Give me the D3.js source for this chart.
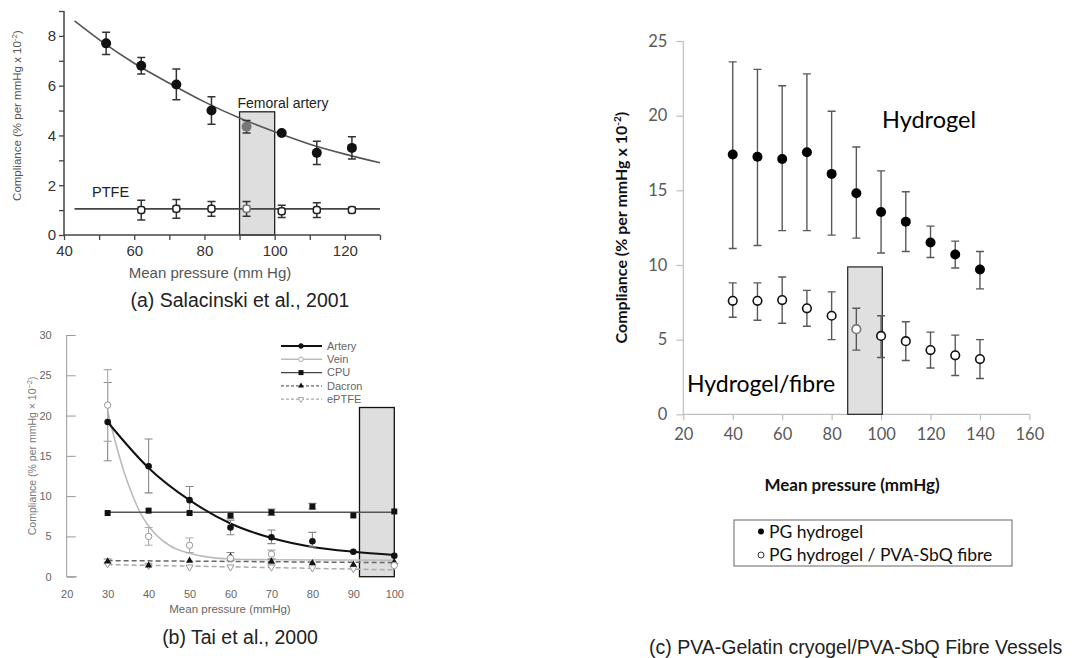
<!DOCTYPE html>
<html>
<head>
<meta charset="utf-8">
<script src="https://cdn.jsdelivr.net/npm/d3@7"></script>
<style>
  body { margin: 0; background: #fff; }
  svg { display: block; }
</style>
</head>
<body>
<div id="chart-area"></div>
<script>
// Panel (a) - Salacinski et al., 2001
const pressureA = [52, 62, 72, 82, 92, 102, 112, 122];
const arteryA = [7.7, 6.8, 6.05, 5.0, 4.35, 4.1, 3.3, 3.5];
const arteryErrA = [0.45, 0.33, 0.62, 0.55, 0.25, 0, 0.47, 0.45];
const ptfePressureA = [62, 72, 82, 92, 102, 112, 122];
const ptfeA = [1.0, 1.05, 1.05, 1.05, 0.95, 1.0, 1.0];
const ptfeErrA = [0.4, 0.38, 0.3, 0.3, 0.25, 0.3, 0.1];
const arteryFitXA = [43, 50, 60, 70, 80, 90, 100, 110, 120, 130];
const arteryFitYA = [8.6, 7.85, 6.9, 6.1, 5.35, 4.7, 4.15, 3.65, 3.25, 2.9];
const ptfeFitA = [[43, 1.05], [130, 1.05]];

// Panel (b) - Tai et al., 2000
const pressureB = [30, 40, 50, 60, 70, 80, 90, 100];
const arteryB = [19.2, 13.7, 9.5, 6.1, 4.9, 4.4, 3.1, 2.6];
const arteryLoB = [14.4, 10.4, 8.0, 5.2, 4.1, 3.7, 3.1, 2.6];
const arteryHiB = [24.1, 17.1, 11.2, 7.0, 5.8, 5.5, 3.1, 2.6];
const veinB = [21.3, 5.0, 3.9, 2.3, 2.8, 1.9, 1.6, 1.4];
const veinLoB = [16.8, 3.9, 3.0, 2.3, 2.2, 1.9, 1.6, 1.4];
const veinHiB = [25.7, 6.1, 4.8, 2.3, 3.3, 1.9, 1.6, 1.4];
const cpuB = [7.9, 8.2, 7.9, 7.6, 8.0, 8.7, 7.6, 8.1];
const cpuLoB = [7.9, 8.2, 7.9, 7.2, 7.6, 8.4, 7.6, 8.1];
const cpuHiB = [7.9, 8.2, 7.9, 8.0, 8.4, 9.1, 7.6, 8.1];
const dacronB = [1.9, 1.4, 2.0, 2.5, 1.9, 1.7, 1.5, 1.8];
const dacronLoB = [1.6, 1.4, 2.0, 2.0, 1.6, 1.7, 1.5, 1.8];
const dacronHiB = [2.2, 1.4, 2.0, 3.0, 2.2, 1.7, 1.5, 1.8];
const eptfeB = [1.6, 1.4, 1.2, 1.2, 1.2, 1.1, 1.0, 1.4];
const arteryFitB = [[30, 19.2], [40, 13.5], [50, 9.5], [60, 6.6], [70, 4.8], [80, 3.7], [90, 3.1], [100, 2.7]];
const veinFitB = [[30, 20.5], [32, 16.5], [34, 13.0], [36, 10.2], [38, 7.9], [40, 6.3], [45, 3.9], [50, 2.9], [55, 2.4], [60, 2.2], [70, 2.1], [100, 2.05]];
const cpuFitB = [[30, 8.0], [100, 8.0]];
const dacronFitB = [[30, 2.0], [100, 1.75]];
const eptfeFitB = [[30, 1.5], [100, 0.85]];
const legendB = ['Artery', 'Vein', 'CPU', 'Dacron', 'ePTFE'];

// Panel (c) - PVA-Gelatin cryogel / PVA-SbQ fibre
const pressureC = [40, 50, 60, 70, 80, 90, 100, 110, 120, 130, 140];
const hydrogelC = [17.4, 17.25, 17.1, 17.55, 16.1, 14.8, 13.55, 12.9, 11.5, 10.7, 9.7];
const hydrogelLoC = [11.1, 11.3, 12.3, 12.3, 12.0, 11.8, 10.8, 10.9, 10.5, 9.8, 8.4];
const hydrogelHiC = [23.6, 23.1, 22.0, 22.8, 20.3, 17.9, 16.3, 14.9, 12.6, 11.6, 10.9];
const fibreC = [7.6, 7.6, 7.65, 7.1, 6.6, 5.7, 5.25, 4.9, 4.3, 3.95, 3.7];
const fibreLoC = [6.5, 6.3, 6.1, 5.9, 5.0, 4.3, 3.8, 3.6, 3.1, 2.6, 2.4];
const fibreHiC = [8.8, 8.8, 9.2, 8.3, 8.2, 7.1, 6.6, 6.2, 5.5, 5.3, 5.0];
const legendC = ['PG hydrogel', 'PG hydrogel / PVA-SbQ fibre'];

const svg = d3.select('#chart-area')
  .append('svg')
    .attr('width', 1078)
    .attr('height', 658);

const arial = 'Liberation Sans, Arial, sans-serif';
const calibri = 'Lato, Open Sans, sans-serif';

// ---------- Panel (a) ----------
const xa = d3.scaleLinear().domain([40, 130]).range([64, 380]);
const ya = d3.scaleLinear().domain([0, 9]).range([235, 11]);
const ga = svg.append('g');

ga.append('rect')
  .attr('x', xa(90)).attr('y', ya(4.95))
  .attr('width', xa(100) - xa(90)).attr('height', ya(0) - ya(4.95))
  .attr('fill', '#dedede').attr('stroke', '#222').attr('stroke-width', 1.3);

const xAxisA = ga.append('g')
  .attr('transform', 'translate(0,' + ya(0) + ')')
  .call(d3.axisBottom(xa).tickValues(d3.range(40, 131, 10)).tickSize(5)
    .tickFormat(d => d % 20 === 0 ? d : ''));
const yAxisA = ga.append('g')
  .attr('transform', 'translate(' + xa(40) + ',0)')
  .call(d3.axisLeft(ya).tickValues(d3.range(0, 10, 1)).tickSize(5)
    .tickFormat(d => d % 2 === 0 && d < 9 ? d : ''));
[xAxisA, yAxisA].forEach(ax => {
  ax.select('.domain').attr('stroke', '#444').attr('stroke-width', 1.5);
  ax.selectAll('.tick line').attr('stroke', '#444').attr('stroke-width', 1.3);
  ax.selectAll('.tick text').attr('fill', '#333').attr('font-family', arial).attr('font-size', 15);
});
yAxisA.select('.domain').attr('d', 'M0,' + ya(9) + 'V' + ya(0));
xAxisA.select('.domain').attr('d', 'M' + xa(40) + ',0H' + xa(130));
xAxisA.selectAll('.tick text').attr('dy', '0.85em');

const lineA = d3.line().x(d => xa(d[0])).y(d => ya(d[1])).curve(d3.curveMonotoneX);
ga.append('path').datum(arteryFitXA.map((x, i) => [x, arteryFitYA[i]]))
  .attr('d', lineA).attr('fill', 'none').attr('stroke', '#555').attr('stroke-width', 1.6);
ga.append('path').datum(ptfeFitA)
  .attr('d', lineA).attr('fill', 'none').attr('stroke', '#444').attr('stroke-width', 1.6);

function errBars(g, xs, ys, lo, hi, x, y, cap, color, width) {
  g.selectAll(null).data(xs.map((d, i) => i).filter(i => hi[i] > lo[i]))
    .enter().append('path')
      .attr('d', i => {
        const cx = x(xs[i]), y0 = y(lo[i]), y1 = y(hi[i]);
        return 'M' + cx + ',' + y0 + 'V' + y1 +
          'M' + (cx - cap) + ',' + y0 + 'H' + (cx + cap) +
          'M' + (cx - cap) + ',' + y1 + 'H' + (cx + cap);
      })
      .attr('fill', 'none').attr('stroke', color).attr('stroke-width', width);
}

errBars(ga, pressureA, arteryA, arteryA.map((v, i) => v - arteryErrA[i]), arteryA.map((v, i) => v + arteryErrA[i]),
  xa, ya, 4, '#333', 1.5);
errBars(ga, ptfePressureA, ptfeA, ptfeA.map((v, i) => v - ptfeErrA[i]), ptfeA.map((v, i) => v + ptfeErrA[i]),
  xa, ya, 4, '#333', 1.5);

ga.selectAll('.artA').data(pressureA).enter().append('circle')
  .attr('cx', d => xa(d)).attr('cy', (d, i) => ya(arteryA[i]))
  .attr('r', 5).attr('fill', (d, i) => d === 92 ? '#777' : '#111');
ga.selectAll('.ptfeA').data(ptfePressureA).enter().append('rect')
  .attr('x', d => xa(d) - 3.5).attr('y', (d, i) => ya(ptfeA[i]) - 3.5)
  .attr('width', 7).attr('height', 7).attr('rx', 2.5)
  .attr('fill', '#fff').attr('stroke', d => d === 92 ? '#777' : '#222').attr('stroke-width', 1.5);

ga.append('text').attr('x', 283).attr('y', 108).attr('text-anchor', 'middle')
  .attr('font-family', arial).attr('font-size', 14).attr('fill', '#222').text('Femoral  artery');
ga.append('text').attr('x', 92).attr('y', 197)
  .attr('font-family', arial).attr('font-size', 14.5).attr('fill', '#222').text('PTFE');
ga.append('text').attr('x', 210).attr('y', 278).attr('text-anchor', 'middle')
  .attr('font-family', arial).attr('font-size', 15).attr('fill', '#555').text('Mean pressure (mm Hg)');
ga.append('text').attr('transform', 'translate(21,' + ya(4.8) + ') rotate(-90)').attr('text-anchor', 'middle')
  .attr('font-family', arial).attr('font-size', 11.5).attr('fill', '#555')
  .html('Compliance (% per mmHg x 10<tspan dy="-4" font-size="8">-2</tspan><tspan dy="4">)</tspan>');
ga.append('text').attr('x', 240).attr('y', 307).attr('text-anchor', 'middle')
  .attr('font-family', arial).attr('font-size', 19.5).attr('fill', '#222').text('(a) Salacinski et al., 2001');

// ---------- Panel (b) ----------
const xb = d3.scaleLinear().domain([20, 100]).range([66.7, 394.3]);
const yb = d3.scaleLinear().domain([0, 30]).range([576.7, 335]);
const gb = svg.append('g');

gb.append('rect')
  .attr('x', xb(91.5)).attr('y', yb(21))
  .attr('width', xb(100) - xb(91.5)).attr('height', yb(0) - yb(21))
  .attr('fill', '#dedede').attr('stroke', '#111').attr('stroke-width', 1.3);

const yAxisB = gb.append('g')
  .attr('transform', 'translate(' + xb(20) + ',0)')
  .call(d3.axisLeft(yb).tickValues(d3.range(0, 31, 5)).tickSize(-9).tickPadding(15));
const xAxisB = gb.append('g')
  .attr('transform', 'translate(0,' + (yb(0) + 4) + ')')
  .call(d3.axisBottom(xb).tickValues(d3.range(20, 101, 10)).tickSize(0).tickPadding(10));
[xAxisB, yAxisB].forEach(ax => {
  ax.select('.domain').attr('stroke', '#999').attr('stroke-width', 1);
  ax.selectAll('.tick line').attr('stroke', '#999');
  ax.selectAll('.tick text').attr('fill', '#666').attr('font-family', arial).attr('font-size', 11);
});
yAxisB.select('.domain').attr('d', 'M0,' + yb(30) + 'V' + yb(0) + 'H10');
xAxisB.select('.domain').remove();

const lineB = d3.line().x(d => xb(d[0])).y(d => yb(d[1])).curve(d3.curveMonotoneX);
gb.append('path').datum(veinFitB).attr('d', lineB)
  .attr('fill', 'none').attr('stroke', '#bbb').attr('stroke-width', 1.6);
gb.append('path').datum(cpuFitB).attr('d', lineB)
  .attr('fill', 'none').attr('stroke', '#555').attr('stroke-width', 1.5);
gb.append('path').datum(dacronFitB).attr('d', lineB)
  .attr('fill', 'none').attr('stroke', '#666').attr('stroke-width', 1.5).attr('stroke-dasharray', '5,3');
gb.append('path').datum(eptfeFitB).attr('d', lineB)
  .attr('fill', 'none').attr('stroke', '#aaa').attr('stroke-width', 1.5).attr('stroke-dasharray', '5,3');
gb.append('path').datum(arteryFitB).attr('d', lineB)
  .attr('fill', 'none').attr('stroke', '#111').attr('stroke-width', 2);

errBars(gb, pressureB, arteryB, arteryLoB, arteryHiB, xb, yb, 4, '#888', 1.1);
errBars(gb, pressureB, veinB, veinLoB, veinHiB, xb, yb, 4, '#aaa', 1.1);
errBars(gb, pressureB, cpuB, cpuLoB, cpuHiB, xb, yb, 4, '#888', 1.1);
errBars(gb, pressureB, dacronB, dacronLoB, dacronHiB, xb, yb, 4, '#888', 1.1);

const triUp = d3.symbol().type(d3.symbolTriangle).size(22);
gb.selectAll('.eptfeB').data(pressureB).enter().append('path')
  .attr('d', triUp)
  .attr('transform', (d, i) => 'translate(' + xb(d) + ',' + yb(eptfeB[i]) + ') rotate(180)')
  .attr('fill', '#fff').attr('stroke', '#999').attr('stroke-width', 1);
gb.selectAll('.dacB').data(pressureB).enter().append('path')
  .attr('d', triUp)
  .attr('transform', (d, i) => 'translate(' + xb(d) + ',' + yb(dacronB[i]) + ')')
  .attr('fill', '#111');
gb.selectAll('.cpuB').data(pressureB).enter().append('rect')
  .attr('x', d => xb(d) - 3).attr('y', (d, i) => yb(cpuB[i]) - 3)
  .attr('width', 6).attr('height', 6).attr('fill', '#111');
gb.selectAll('.veinB').data(pressureB.slice(0, 5)).enter().append('circle')
  .attr('cx', d => xb(d)).attr('cy', (d, i) => yb(veinB[i]))
  .attr('r', 3.2).attr('fill', '#fff').attr('stroke', '#999').attr('stroke-width', 1);
gb.append('circle').attr('cx', xb(100)).attr('cy', yb(veinB[7]))
  .attr('r', 3.2).attr('fill', '#fff').attr('stroke', '#999').attr('stroke-width', 1);
gb.selectAll('.artB').data(pressureB).enter().append('circle')
  .attr('cx', d => xb(d)).attr('cy', (d, i) => yb(arteryB[i]))
  .attr('r', 3.3).attr('fill', '#111');

// legend (b)
const legStyles = [
  { stroke: '#111', w: 2, dash: null, mark: 'circle', fill: '#111' },
  { stroke: '#bbb', w: 1.4, dash: null, mark: 'circle', fill: '#fff' },
  { stroke: '#444', w: 1.4, dash: null, mark: 'square', fill: '#111' },
  { stroke: '#666', w: 1.2, dash: '3,2', mark: 'tri', fill: '#111' },
  { stroke: '#aaa', w: 1.2, dash: '3,2', mark: 'tridown', fill: '#fff' }
];
const legB = gb.selectAll('.legB').data(legendB).enter().append('g')
  .attr('transform', (d, i) => 'translate(281,' + (346 + i * 13.3) + ')');
legB.append('line').attr('x1', 0).attr('x2', 41)
  .attr('stroke', (d, i) => legStyles[i].stroke).attr('stroke-width', (d, i) => legStyles[i].w)
  .attr('stroke-dasharray', (d, i) => legStyles[i].dash);
legB.each(function(d, i) {
  const s = legStyles[i], g = d3.select(this);
  if (s.mark === 'circle') {
    g.append('circle').attr('cx', 20).attr('r', 2.3).attr('fill', s.fill)
      .attr('stroke', i === 1 ? '#aaa' : '#111');
  } else if (s.mark === 'square') {
    g.append('rect').attr('x', 17.5).attr('y', -2.5).attr('width', 5).attr('height', 5).attr('fill', '#111');
  } else {
    g.append('path').attr('d', d3.symbol().type(d3.symbolTriangle).size(14))
      .attr('transform', 'translate(20,0)' + (s.mark === 'tridown' ? ' rotate(180)' : ''))
      .attr('fill', s.fill).attr('stroke', s.mark === 'tridown' ? '#aaa' : 'none');
  }
});
legB.append('text').attr('x', 46).attr('dy', '0.35em')
  .attr('font-family', arial).attr('font-size', 11).attr('fill', '#666').text(d => d);

gb.append('text').attr('x', 230).attr('y', 613).attr('text-anchor', 'middle')
  .attr('font-family', arial).attr('font-size', 11.5).attr('fill', '#666').text('Mean pressure (mmHg)');
gb.append('text').attr('transform', 'translate(36,' + yb(15) + ') rotate(-90)').attr('text-anchor', 'middle')
  .attr('font-family', arial).attr('font-size', 10.5).attr('fill', '#777')
  .html('Compliance (% per mmHg \u00d7 10<tspan dy="-4" font-size="7.5">\u22122</tspan><tspan dy="4">)</tspan>');
gb.append('text').attr('x', 240).attr('y', 644).attr('text-anchor', 'middle')
  .attr('font-family', arial).attr('font-size', 19.5).attr('fill', '#222').text('(b) Tai et al., 2000');

// ---------- Panel (c) ----------
const xc = d3.scaleLinear().domain([20, 160]).range([683.3, 1029.4]);
const yc = d3.scaleLinear().domain([0, 25]).range([414.3, 41]);
const gc = svg.append('g');

const xAxisC = gc.append('g')
  .attr('transform', 'translate(0,' + yc(0) + ')')
  .call(d3.axisBottom(xc).tickValues(d3.range(20, 161, 20)).tickSize(6).tickPadding(8));
const yAxisC = gc.append('g')
  .attr('transform', 'translate(' + xc(20) + ',0)')
  .call(d3.axisLeft(yc).tickValues(d3.range(0, 26, 5)).tickSize(7).tickPadding(9));
[xAxisC, yAxisC].forEach(ax => {
  ax.select('.domain').attr('stroke', '#bfbfbf').attr('stroke-width', 1.2);
  ax.selectAll('.tick line').attr('stroke', '#bfbfbf').attr('stroke-width', 1.2);
  ax.selectAll('.tick text').attr('fill', '#595959').attr('font-family', calibri).attr('font-size', 16.5);
});
xAxisC.select('.domain').attr('d', 'M' + xc(20) + ',0H' + xc(160));
yAxisC.select('.domain').attr('d', 'M0,' + yc(25) + 'V' + yc(0));

gc.append('rect')
  .attr('x', xc(86.5)).attr('y', yc(9.87))
  .attr('width', xc(100.5) - xc(86.5)).attr('height', yc(0) - yc(9.87))
  .attr('fill', '#e0e0e0').attr('stroke', '#222').attr('stroke-width', 1.2);

errBars(gc, pressureC, hydrogelC, hydrogelLoC, hydrogelHiC, xc, yc, 4, '#595959', 1.4);
errBars(gc, pressureC, fibreC, fibreLoC, fibreHiC, xc, yc, 4,
  '#595959', 1.4);

gc.selectAll('.hydC').data(pressureC).enter().append('circle')
  .attr('cx', d => xc(d)).attr('cy', (d, i) => yc(hydrogelC[i]))
  .attr('r', 5).attr('fill', '#000');
gc.selectAll('.fibC').data(pressureC).enter().append('circle')
  .attr('cx', d => xc(d)).attr('cy', (d, i) => yc(fibreC[i]))
  .attr('r', 4.3).attr('fill', '#fff').attr('stroke', d => d === 90 ? '#777' : '#111').attr('stroke-width', 1.6);

gc.append('text').attr('x', 882).attr('y', 128)
  .attr('font-family', calibri).attr('font-size', 23.5).attr('fill', '#000').text('Hydrogel');
gc.append('text').attr('x', 687).attr('y', 392)
  .attr('font-family', calibri).attr('font-size', 23).attr('fill', '#000').text('Hydrogel/fibre');
gc.append('text').attr('x', 852).attr('y', 491).attr('text-anchor', 'middle')
  .attr('font-family', calibri).attr('font-weight', 'bold').attr('font-size', 17).attr('fill', '#111')
  .text('Mean pressure (mmHg)');
gc.append('text').attr('transform', 'translate(627,' + yc(12.5) + ') rotate(-90)').attr('text-anchor', 'middle')
  .attr('font-family', calibri).attr('font-weight', 'bold').attr('font-size', 16).attr('fill', '#111')
  .html('Compliance (% per mmHg x 10<tspan dy="-6" font-size="10">-2</tspan><tspan dy="6">)</tspan>');

// legend (c)
gc.append('rect').attr('x', 734).attr('y', 520).attr('width', 278).attr('height', 46)
  .attr('fill', '#fff').attr('stroke', '#666').attr('stroke-width', 1);
const legC = gc.selectAll('.legC').data(legendC).enter().append('g')
  .attr('transform', (d, i) => 'translate(761,' + (531.5 + i * 23.5) + ')');
legC.append('circle').attr('r', 3)
  .attr('fill', (d, i) => i === 0 ? '#000' : '#fff').attr('stroke', (d, i) => i === 0 ? 'none' : '#333');
legC.append('text').attr('x', 8).attr('dy', '0.35em')
  .attr('font-family', calibri).attr('font-size', 17.5).attr('fill', '#111').text(d => d);

gc.append('text').attr('x', 649).attr('y', 654)
  .attr('font-family', arial).attr('font-size', 19.5).attr('fill', '#222')
  .text('(c) PVA-Gelatin cryogel/PVA-SbQ Fibre Vessels');
</script>
</body>
</html>
